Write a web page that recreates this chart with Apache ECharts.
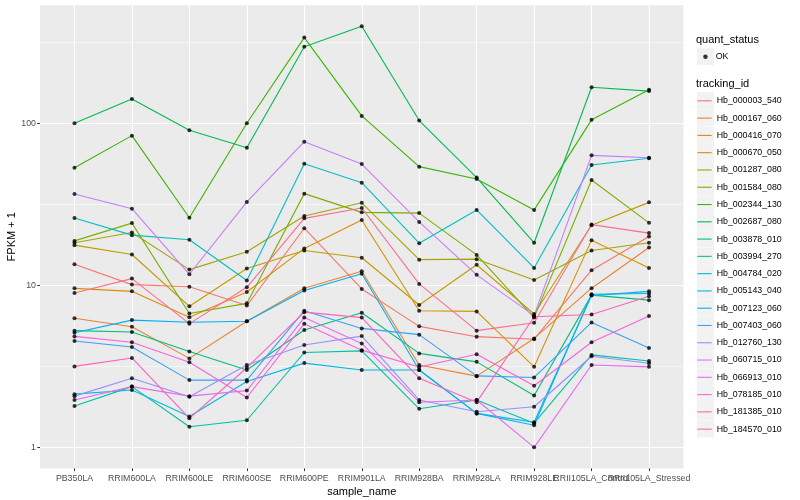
<!DOCTYPE html>
<html>
<head>
<meta charset="utf-8">
<script src="https://cdn.jsdelivr.net/npm/echarts/dist/echarts.min.js"></script>
<style>html,body{margin:0;padding:0;background:#fff}#chart{width:800px;height:500px}</style>
</head>
<body>
<div id="chart"></div>
<script>
// ---- data ----
const categories = ["PB350LA","RRIM600LA","RRIM600LE","RRIM600SE","RRIM600PE","RRIM901LA","RRIM928BA","RRIM928LA","RRIM928LE","RRII105LA_Control","RRII105LA_Stressed"];
const trackingIds = ["Hb_000003_540","Hb_000167_060","Hb_000416_070","Hb_000670_050","Hb_001287_080","Hb_001584_080","Hb_002344_130","Hb_002687_080","Hb_003878_010","Hb_003994_270","Hb_004784_020","Hb_005143_040","Hb_007123_060","Hb_007403_060","Hb_012760_130","Hb_060715_010","Hb_066913_010","Hb_078185_010","Hb_181385_010","Hb_184570_010"];
const hb_000003_540 = [13.5, 10.1, 9.8, 7.5, 22.5, 9.5, 5.58, 4.82, 4.65, 12.4, 20.0];
const hb_000167_060 = [6.26, 5.55, 3.54, 6.0, 9.6, 12.2, 3.22, 2.75, 4.7, 9.6, 17.1];
const hb_000416_070 = [9.58, 9.18, 6.36, 9.09, 16.9, 25.3, 6.97, 6.9, 3.14, 19.0, 12.8];
const hb_000670_050 = [17.7, 15.5, 7.42, 12.7, 16.4, 14.8, 7.56, 13.4, 6.65, 23.5, 32.5];
const hb_001287_080 = [18.3, 21.2, 12.5, 16.1, 26.8, 32.3, 14.4, 14.5, 10.8, 16.4, 18.3];
const hb_001584_080 = [18.8, 24.2, 6.7, 7.74, 36.8, 28.2, 27.9, 15.4, 6.32, 44.7, 24.3];
const hb_002344_130 = [53.2, 83.9, 26.1, 100, 338, 111, 54, 45.3, 29.2, 105, 161];
const hb_002687_080 = [100, 141, 90.5, 70.7, 297, 397, 104, 46.2, 18.3, 167, 158];
const hb_003878_010 = [5.25, 5.15, 3.9, 3.0, 5.3, 6.77, 3.8, 3.37, 2.09, 8.7, 8.1];
const hb_003994_270 = [1.80, 2.37, 1.34, 1.47, 3.85, 3.94, 1.73, 1.96, 1.41, 3.72, 3.41];
const hb_004784_020 = [26.0, 20.4, 19.1, 10.7, 56.3, 43, 18.2, 29.2, 12.8, 55.3, 60.9];
const hb_005143_040 = [2.13, 2.26, 1.55, 2.55, 3.31, 3.0, 3.0, 1.62, 1.37, 8.8, 8.9];
const hb_007123_060 = [5.1, 6.1, 5.92, 6.0, 9.3, 11.8, 3.0, 1.62, 1.43, 8.64, 9.18];
const hb_007403_060 = [4.53, 4.16, 2.6, 2.6, 6.97, 5.42, 4.96, 2.76, 2.7, 5.9, 4.1];
const hb_012760_130 = [2.07, 2.67, 2.05, 3.22, 4.28, 4.86, 1.96, 1.66, 1.78, 3.65, 3.3];
const hb_060715_010 = [36.6, 29.7, 11.7, 32.7, 77, 56, 24.6, 11.6, 6.5, 63.4, 61.3];
const hb_066913_010 = [1.96, 2.37, 2.07, 2.24, 6.32, 4.38, 1.9, 1.96, 1.0, 3.22, 3.14];
const hb_078185_010 = [4.84, 4.45, 3.35, 2.03, 5.8, 3.98, 3.13, 3.75, 2.4, 4.45, 6.46];
const hb_181385_010 = [3.16, 3.56, 1.51, 3.1, 6.83, 6.32, 2.67, 1.9, 6.4, 6.6, 8.55];
const hb_184570_010 = [8.96, 11.0, 5.8, 9.72, 25.9, 30.0, 10.2, 5.25, 5.87, 23.7, 21.0];
const yMajorTicks = [1, 10, 100];
const yMinorTicks = [3.1623, 31.623, 316.23];

// ---- styles ----
const colors = ["#F8766D","#EA8331","#D89000","#C09B00","#A3A500","#7CAE00","#39B600","#00BB4E","#00BF7D","#00C1A3","#00BFC4","#00BAE0","#00B0F6","#35A2FF","#9590FF","#C77CFF","#E76BF3","#FA62DB","#FF62BC","#FF6C91"];
const values = [hb_000003_540,hb_000167_060,hb_000416_070,hb_000670_050,hb_001287_080,hb_001584_080,hb_002344_130,hb_002687_080,hb_003878_010,hb_003994_270,hb_004784_020,hb_005143_040,hb_007123_060,hb_007403_060,hb_012760_130,hb_060715_010,hb_066913_010,hb_078185_010,hb_181385_010,hb_184570_010];

// ggplot-like 5% expansion on log scale
const allVals = values.flat();
const lo = Math.log10(Math.min(...allVals)), hi = Math.log10(Math.max(...allVals));
const pad = (hi - lo) * 0.05;
const yMin = Math.pow(10, lo - pad), yMax = Math.pow(10, hi + pad);
const catIdx = categories.map((c, i) => i);
const evenIdx = catIdx.filter(i => i % 2 === 0);
const oddIdx = catIdx.filter(i => i % 2 === 1);

const font = 'Liberation Sans, Arial, Helvetica, sans-serif';
const lineSeries = trackingIds.map((id, k) => ({
  name: id, type: 'line', xAxisIndex: 0, yAxisIndex: 0,
  data: values[k].map((v, i) => [i, v]),
  symbol: 'none', silent: true, z: 2,
  lineStyle: { color: colors[k], width: 1.1 },
  itemStyle: { color: colors[k] }
}));
const pointSeries = {
  name: 'OK', type: 'scatter', xAxisIndex: 0, yAxisIndex: 0, z: 3, silent: true,
  data: values.flatMap(arr => arr.map((v, i) => [i, v])),
  symbol: 'circle', symbolSize: 4, itemStyle: { color: '#000' }
};

// legend key backgrounds (ggplot grey95 boxes)
const keyStep = 17.28;
const keyBoxes = [{ type: 'rect', shape: { x: 697, y: 48.2, width: 17, height: 17 }, style: { fill: '#F2F2F2' }, z: -1 }];
trackingIds.forEach((id, k) => keyBoxes.push({ type: 'rect', shape: { x: 697, y: 92.2 + keyStep * k, width: 17, height: 17 }, style: { fill: '#F2F2F2' }, z: -1 }));

const xLabelStyle = { fontSize: 8.8, color: '#4D4D4D', margin: 5.5, hideOverlap: false, fontFamily: font, formatter: v => categories[Math.round(v)] };
const noLine = { show: false, onZero: false };

const chart = echarts.init(document.getElementById('chart'), null, { renderer: 'canvas' });
chart.setOption({
  animation: false,
  textStyle: { fontFamily: font },
  title: [
    { text: 'quant_status', left: 696, top: 34.5, padding: 0, textStyle: { fontSize: 11, fontWeight: 'normal', color: '#000', fontFamily: font } },
    { text: 'tracking_id', left: 696, top: 78, padding: 0, textStyle: { fontSize: 11, fontWeight: 'normal', color: '#000', fontFamily: font } }
  ],
  graphic: keyBoxes,
  legend: [
    { data: ['OK'], orient: 'vertical', left: 703.2, top: 48.2, padding: 0, itemWidth: 4.5, itemHeight: 4.5, icon: 'circle', selectedMode: false,
      itemStyle: { color: '#000' },
      textStyle: { fontSize: 8.8, color: '#000', fontFamily: font, lineHeight: 17, padding: [0, 0, 0, 3] } },
    { data: trackingIds, orient: 'vertical', left: 697.3, top: 92.2, padding: 0, itemWidth: 14.4, itemHeight: 1.1, itemGap: 0, icon: 'rect', selectedMode: false,
      textStyle: { fontSize: 8.8, color: '#000', fontFamily: font, lineHeight: keyStep } }
  ],
  grid: { left: 40, right: 116.5, top: 5.2, bottom: 31.6, show: true, backgroundColor: '#EBEBEB', borderWidth: 0, containLabel: false, outerBoundsMode: 'none' },
  xAxis: [
    {
      type: 'value', min: -0.6, max: 10.6, position: 'bottom',
      name: 'sample_name', nameLocation: 'middle', nameGap: 18, nameMoveOverlap: false,
      nameTextStyle: { fontSize: 11, color: '#000', fontFamily: font },
      axisLine: noLine,
      axisTick: { show: true, customValues: catIdx, length: 2.75, lineStyle: { color: '#333333', width: 1 } },
      axisLabel: Object.assign({ customValues: evenIdx }, xLabelStyle),
      splitLine: { show: true, lineStyle: { color: '#FFFFFF', width: 1.1 } }
    },
    {
      type: 'value', min: -0.6, max: 10.6, position: 'bottom', offset: 0,
      axisLine: noLine,
      axisTick: { show: false, customValues: oddIdx },
      axisLabel: Object.assign({ customValues: oddIdx }, xLabelStyle),
      splitLine: { show: false }
    }
  ],
  yAxis: [
    {
      type: 'log', logBase: 10, min: yMin, max: yMax, position: 'left',
      name: 'FPKM + 1', nameLocation: 'middle', nameGap: 22.5, nameMoveOverlap: false,
      nameTextStyle: { fontSize: 11, color: '#000', fontFamily: font },
      axisLine: noLine,
      axisTick: { show: true, customValues: yMajorTicks, length: 2.75, lineStyle: { color: '#333333', width: 1 } },
      axisLabel: { customValues: yMajorTicks, formatter: v => String(Math.round(v)), fontSize: 8.8, color: '#4D4D4D', margin: 4, fontFamily: font },
      splitLine: { show: true, lineStyle: { color: '#FFFFFF', width: 1.1 } }
    },
    {
      type: 'log', logBase: 10, min: yMin, max: yMax, position: 'left',
      axisLine: noLine,
      axisTick: { show: false, customValues: yMinorTicks },
      axisLabel: { show: false, customValues: yMinorTicks },
      splitLine: { show: true, lineStyle: { color: '#FFFFFF', width: 0.55 } }
    }
  ],
  series: [...lineSeries, pointSeries]
});
</script>
</body>
</html>
